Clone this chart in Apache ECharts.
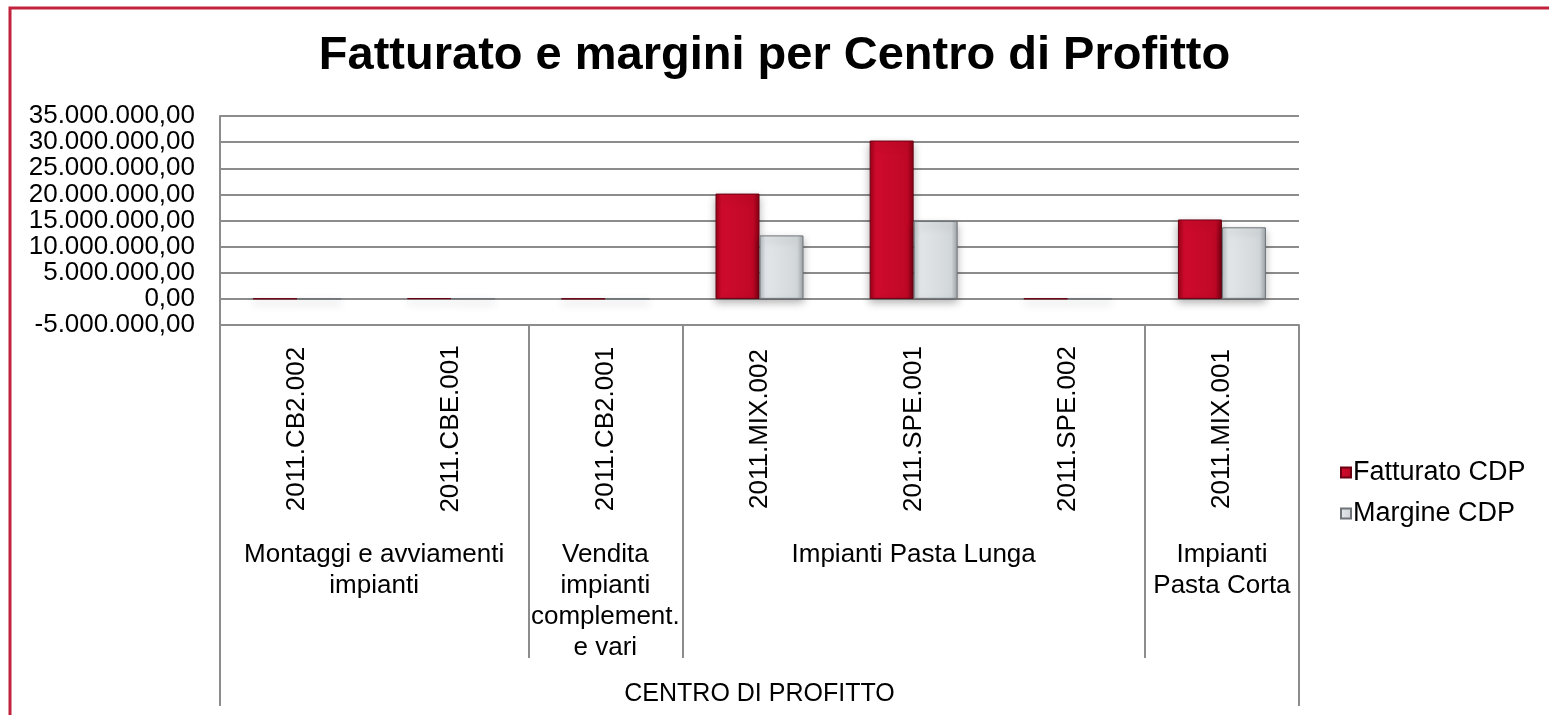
<!DOCTYPE html>
<html>
<head>
<meta charset="utf-8">
<script src="https://cdn.jsdelivr.net/npm/echarts@6/dist/echarts.min.js"></script>
<style>
  html, body { margin: 0; padding: 0; background: #fff; }
  #chart { width: 1549px; height: 715px; }
</style>
</head>
<body>
<div id="chart"></div>
<script>
// dati
var categories = ['2011.CB2.002', '2011.CBE.001', '2011.CB2.001', '2011.MIX.002', '2011.SPE.001', '2011.SPE.002', '2011.MIX.001'];
var fatturato = [30000, 100000, 20000, 20150000, 30300000, 40000, 15200000];
var margine = [15000, 50000, 10000, 12150000, 14900000, 20000, 13700000];
var groupNames = ['Montaggi e avviamenti\nimpianti', 'Vendita\nimpianti\ncomplement.\ne vari', 'Impianti Pasta Lunga', 'Impianti\nPasta Corta'];
var groupSizes = [2, 1, 3, 1];
var outerLabel = 'CENTRO DI PROFITTO';
var yTicks = [-5000000, 0, 5000000, 10000000, 15000000, 20000000, 25000000, 30000000, 35000000];

// centri e confini dei gruppi (in unità di categoria)
var groupCenters = [], groupBounds = [], acc = 0;
groupSizes.forEach(function (s, i) {
    groupCenters.push(acc + s / 2);
    acc += s;
    if (i < groupSizes.length - 1) groupBounds.push(acc);
});

function fmtIt(v) {
    var neg = v < 0;
    var s = String(Math.abs(Math.round(v)));
    s = s.replace(/\B(?=(\d{3})+(?!\d))/g, '.');
    return (neg ? '-' : '') + s + ',00';
}

var font = 'Liberation Sans, Arial, sans-serif';

var redFill = new echarts.graphic.LinearGradient(0, 0, 1, 0, [
    { offset: 0, color: '#9a0018' },
    { offset: 0.14, color: '#cf0b2c' },
    { offset: 0.86, color: '#c00826' },
    { offset: 1, color: '#850013' }
]);
var greyFill = new echarts.graphic.LinearGradient(0, 0, 1, 0, [
    { offset: 0, color: '#b3b9bd' },
    { offset: 0.14, color: '#e2e6e8' },
    { offset: 0.86, color: '#d2d7da' },
    { offset: 1, color: '#9ea4a8' }
]);

var chart = echarts.init(document.getElementById('chart'));
var option = {
    backgroundColor: '#fff',
    animation: false,
    title: {
        text: 'Fatturato e margini per Centro di Profitto',
        left: 'center',
        top: 28,
        textStyle: { fontFamily: font, fontSize: 47, fontWeight: 'bold', color: '#000' }
    },
    legend: {
        orient: 'vertical',
        left: 1335,
        top: 454,
        itemWidth: 10,
        itemHeight: 10,
        itemGap: 14,
        icon: 'rect',
        textStyle: { fontFamily: font, fontSize: 27, color: '#000', padding: [0, 0, 0, -3] },
        data: ['Fatturato CDP', 'Margine CDP']
    },
    grid: {
        left: 220, right: 250, top: 116, bottom: 390,
        outerBoundsMode: 'none'
    },
    xAxis: [
        {
            type: 'category',
            data: categories,
            position: 'bottom',
            axisLine: { onZero: false, lineStyle: { color: '#8c8c8c', width: 2 } },
            axisTick: { show: false },
            axisLabel: {
                rotate: 90,
                align: 'center',
                verticalAlign: 'middle',
                margin: 104,
                interval: 0,
                fontFamily: font,
                fontSize: 26,
                color: '#000'
            }
        },
        {
            type: 'value',
            min: 0,
            max: categories.length,
            position: 'bottom',
            axisLine: { show: false, onZero: false },
            splitLine: { show: false },
            axisTick: {
                show: true,
                customValues: groupBounds,
                length: 333,
                lineStyle: { color: '#8c8c8c', width: 2 }
            },
            axisLabel: {
                customValues: groupCenters,
                formatter: function (v) {
                    var i = groupCenters.indexOf(v);
                    return i >= 0 ? groupNames[i] : '';
                },
                margin: 214,
                align: 'center',
                verticalAlign: 'top',
                lineHeight: 31,
                fontFamily: font,
                fontSize: 26,
                color: '#000',
                hideOverlap: false
            }
        },
        {
            type: 'value',
            min: 0,
            max: categories.length,
            position: 'bottom',
            axisLine: { show: false, onZero: false },
            splitLine: { show: false },
            axisTick: {
                show: true,
                customValues: [0, categories.length],
                length: 381,
                lineStyle: { color: '#8c8c8c', width: 2 }
            },
            axisLabel: {
                customValues: [categories.length / 2],
                formatter: function () { return outerLabel; },
                margin: 369,
                align: 'center',
                verticalAlign: 'middle',
                fontFamily: font,
                fontSize: 25,
                color: '#000',
                hideOverlap: false
            }
        }
    ],
    yAxis: {
        type: 'value',
        min: yTicks[0],
        max: yTicks[yTicks.length - 1],
        interval: yTicks[1] - yTicks[0],
        axisLine: { show: true, lineStyle: { color: '#8c8c8c', width: 2 } },
        axisTick: { show: false },
        splitLine: { show: true, lineStyle: { color: '#8c8c8c', width: 2 } },
        axisLabel: {
            margin: 25,
            fontFamily: font,
            fontSize: 26,
            color: '#000',
            formatter: fmtIt
        }
    },
    series: [
        {
            name: 'Fatturato CDP',
            type: 'bar',
            data: fatturato,
            barWidth: 44,
            barGap: '0%',
            itemStyle: {
                color: redFill,
                borderColor: '#6a0012',
                borderWidth: 1,
                shadowColor: 'rgba(0,0,0,0.3)',
                shadowBlur: 8,
                shadowOffsetY: 4
            }
        },
        {
            name: 'Margine CDP',
            type: 'bar',
            data: margine,
            barWidth: 44,
            barGap: '0%',
            itemStyle: {
                color: greyFill,
                borderColor: '#6f7478',
                borderWidth: 1,
                shadowColor: 'rgba(0,0,0,0.3)',
                shadowBlur: 8,
                shadowOffsetY: 4
            }
        }
    ],
    graphic: [
        {
            type: 'polyline',
            silent: true,
            shape: { points: [[10, 715], [10, 8], [1549, 8]] },
            style: { stroke: '#c0233b', lineWidth: 3, fill: null }
        }
    ]
};
chart.setOption(option);
</script>
</body>
</html>
